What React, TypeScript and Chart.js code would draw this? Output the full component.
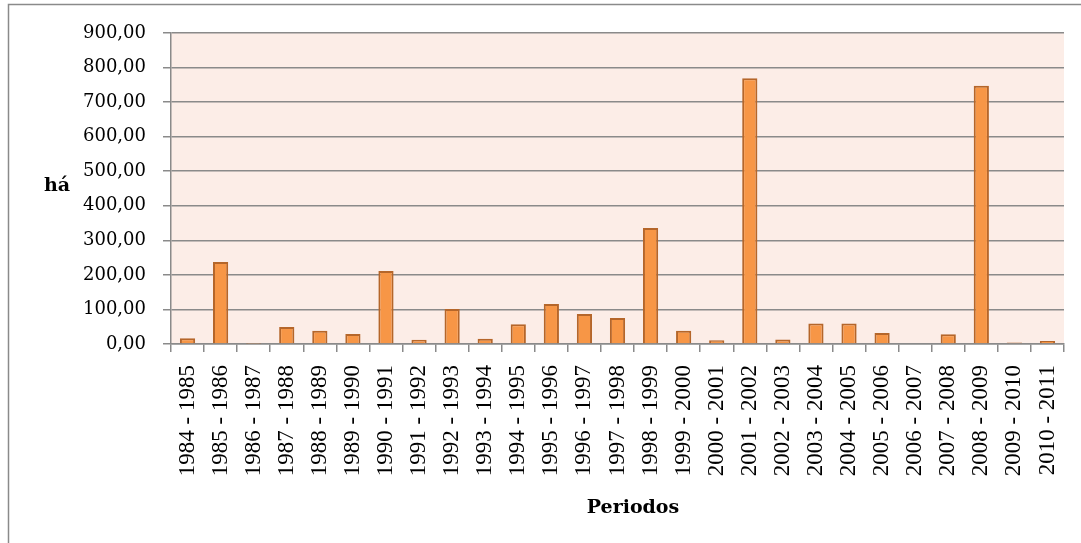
import React, { useEffect, useRef } from "react";
import { Chart, registerables } from "chart.js";

Chart.register(...registerables);

const categories = [
  "1984 - 1985", "1985 - 1986", "1986 - 1987", "1987 - 1988", "1988 - 1989",
  "1989 - 1990", "1990 - 1991", "1991 - 1992", "1992 - 1993", "1993 - 1994",
  "1994 - 1995", "1995 - 1996", "1996 - 1997", "1997 - 1998", "1998 - 1999",
  "1999 - 2000", "2000 - 2001", "2001 - 2002", "2002 - 2003", "2003 - 2004",
  "2004 - 2005", "2005 - 2006", "2006 - 2007", "2007 - 2008", "2008 - 2009",
  "2009 - 2010", "2010 - 2011",
];

const areaValues = [
  17, 237, 1, 49, 38, 29, 211, 12, 101, 15, 57, 116, 87, 75, 336, 38, 11, 769,
  13, 59, 59, 32, 2, 28, 747, 4, 9,
];

const yAxisTitle = "há";
const xAxisTitle = "Periodos";
const yMin = 0;
const yMax = 900;
const yStep = 100;

export default function App() {
  const ref = useRef<HTMLCanvasElement | null>(null);

  useEffect(() => {
    if (!ref.current) return;
    const decor = {
      id: "decor",
      beforeDraw(chart: any) {
        const { ctx, chartArea } = chart;
        ctx.save();
        ctx.fillStyle = "#ffffff";
        ctx.fillRect(0, 0, chart.width, chart.height);
        ctx.fillStyle = "#FCEDE7";
        ctx.fillRect(chartArea.left, chartArea.top, chartArea.right - chartArea.left, chartArea.bottom - chartArea.top);
        ctx.restore();
      },
      afterDraw(chart: any) {
        const { ctx } = chart;
        ctx.save();
        ctx.strokeStyle = "#8a8a8a";
        ctx.lineWidth = 1.5;
        ctx.strokeRect(8.5, 4.5, 1200, 700);
        ctx.fillStyle = "#000000";
        ctx.font = "bold 19px 'DejaVu Serif'";
        ctx.textAlign = "center";
        ctx.textBaseline = "middle";
        ctx.fillText(yAxisTitle, 57, 186);
        ctx.fillText(xAxisTitle, 633, 508);
        ctx.restore();
      },
    };

    const chart = new Chart(ref.current, {
      type: "bar",
      data: {
        labels: categories,
        datasets: [
          {
            data: areaValues,
            backgroundColor: "#F79646",
            borderColor: "#B5662A",
            borderWidth: 2,
            barPercentage: 0.46,
            categoryPercentage: 1,
          },
        ],
      },
      options: {
        responsive: false,
        animation: false,
        layout: { padding: { left: 0, top: 33, right: 17, bottom: 0 } },
        plugins: { legend: { display: false }, tooltip: { enabled: false } },
        scales: {
          x: {
            afterFit(scale: any) {
              scale.height = 199;
              scale.paddingLeft = 0;
              scale.paddingRight = 0;
            },
            grid: {
              display: true,
              drawOnChartArea: false,
              tickLength: 8,
              color: "#8a8a8a",
              lineWidth: 1.5,
              offset: true,
            },
            border: { display: true, color: "#8a8a8a", width: 1.5 },
            ticks: {
              autoSkip: false,
              maxRotation: 90,
              minRotation: 90,
              padding: 13,
              color: "#000000",
              font: { family: "'Liberation Serif'", size: 23 },
            },
          },
          y: {
            min: yMin,
            max: yMax,
            afterFit(scale: any) {
              scale.width = 171;
            },
            grid: {
              color: "#8a8a8a",
              lineWidth: 1.5,
              tickLength: 8,
            },
            border: { display: true, color: "#8a8a8a", width: 1.5 },
            ticks: {
              stepSize: yStep,
              padding: 17,
              color: "#000000",
              font: { family: "'DejaVu Serif'", size: 18 },
              callback: (v: any) => Number(v).toFixed(2).replace(".", ","),
            },
          },
        },
      },
      plugins: [decor],
    });
    return () => chart.destroy();
  }, []);

  return (
    <div style={{ position: "absolute", left: 0, top: 0, width: 1081, height: 543 }}>
      <canvas ref={ref} width={1081} height={543} />
    </div>
  );
}
